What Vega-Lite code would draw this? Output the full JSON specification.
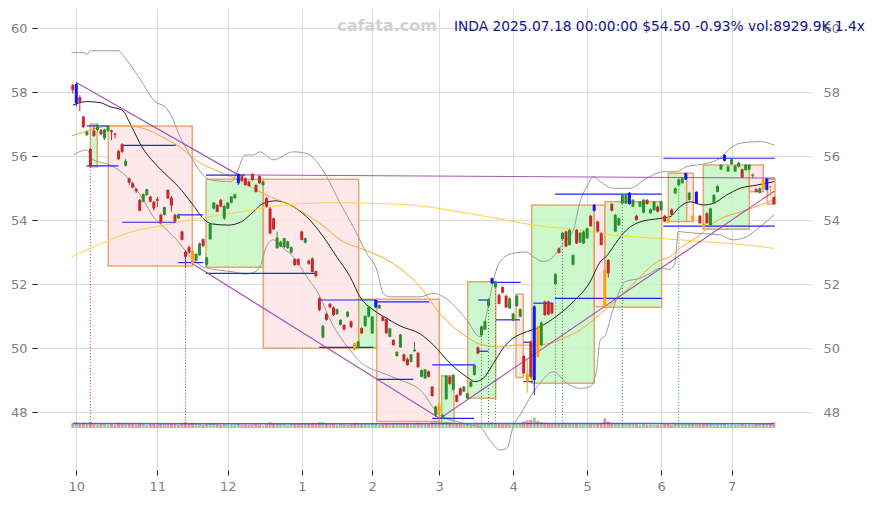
{
"$schema":"https://vega.github.io/schema/vega-lite/v6.json",
"width":775,"height":461,
"autosize":"none",
"padding":{"left":37,"top":9,"right":63,"bottom":35},
"background":"white",
"config":{"view":{"stroke":null},"scale":{"continuousPadding":0},"axis":{"domain":false,"gridColor":"#dcdcdc","gridWidth":1,"labelColor":"#808080","labelFont":"DejaVu Sans","labelFontSize":13,"tickColor":"#222222","tickSize":5}},
"datasets":{
"candles":[
{"i":-1,"o":58.22,"h":58.25,"l":57.95,"c":58.06,"v":7,"t":"r"},
{"i":0,"o":58.25,"h":58.3,"l":57.55,"c":57.65,"v":9,"t":"b"},
{"i":1,"o":57.84,"h":57.9,"l":57.4,"c":57.69,"v":7,"t":"r"},
{"i":2,"o":57.23,"h":57.25,"l":56.88,"c":56.9,"v":8,"t":"r"},
{"i":3,"o":56.66,"h":56.8,"l":56.62,"c":56.76,"v":6,"t":"g"},
{"i":4,"o":56.22,"h":56.25,"l":55.65,"c":55.67,"v":9,"t":"r"},
{"i":5,"o":56.79,"h":56.95,"l":56.6,"c":56.63,"v":6,"t":"r"},
{"i":6,"o":56.81,"h":57.0,"l":56.78,"c":56.97,"v":5,"t":"g"},
{"i":7,"o":56.81,"h":56.85,"l":56.65,"c":56.68,"v":6,"t":"r"},
{"i":8,"o":56.55,"h":56.85,"l":56.5,"c":56.83,"v":6,"t":"g"},
{"i":9,"o":56.79,"h":56.97,"l":56.75,"c":56.95,"v":5,"t":"g"},
{"i":10,"o":56.8,"h":56.82,"l":56.5,"c":56.75,"v":6,"t":"r"},
{"i":11,"o":56.7,"h":56.72,"l":56.55,"c":56.66,"v":5,"t":"r"},
{"i":12,"o":56.16,"h":56.2,"l":55.88,"c":55.9,"v":8,"t":"r"},
{"i":13,"o":56.37,"h":56.4,"l":56.1,"c":56.13,"v":7,"t":"r"},
{"i":14,"o":55.7,"h":55.9,"l":55.68,"c":55.85,"v":6,"t":"g"},
{"i":15,"o":55.3,"h":55.33,"l":55.1,"c":55.17,"v":7,"t":"r"},
{"i":16,"o":55.15,"h":55.18,"l":54.98,"c":55.02,"v":6,"t":"r"},
{"i":17,"o":54.97,"h":55.0,"l":54.85,"c":54.9,"v":5,"t":"r"},
{"i":18,"o":54.63,"h":54.66,"l":54.27,"c":54.29,"v":8,"t":"r"},
{"i":19,"o":54.57,"h":54.83,"l":54.55,"c":54.81,"v":6,"t":"g"},
{"i":20,"o":54.78,"h":54.98,"l":54.75,"c":54.96,"v":5,"t":"g"},
{"i":21,"o":54.73,"h":54.76,"l":54.55,"c":54.57,"v":6,"t":"r"},
{"i":22,"o":54.57,"h":54.6,"l":54.3,"c":54.36,"v":6,"t":"r"},
{"i":23,"o":54.65,"h":54.72,"l":54.4,"c":54.6,"v":5,"t":"r"},
{"i":24,"o":54.16,"h":54.2,"l":53.88,"c":53.9,"v":7,"t":"r"},
{"i":25,"o":54.16,"h":54.42,"l":54.14,"c":54.4,"v":6,"t":"g"},
{"i":26,"o":54.94,"h":54.96,"l":54.66,"c":54.68,"v":6,"t":"r"},
{"i":27,"o":54.7,"h":54.75,"l":54.26,"c":54.45,"v":7,"t":"r"},
{"i":28,"o":54.16,"h":54.2,"l":53.93,"c":53.95,"v":6,"t":"r"},
{"i":29,"o":54.05,"h":54.2,"l":54.03,"c":54.18,"v":5,"t":"g"},
{"i":30,"o":53.64,"h":53.67,"l":53.36,"c":53.38,"v":8,"t":"r"},
{"i":31,"o":53.01,"h":53.05,"l":52.54,"c":52.85,"v":9,"t":"r"},
{"i":32,"o":53.15,"h":53.2,"l":52.95,"c":52.98,"v":7,"t":"r"},
{"i":33,"o":53.04,"h":53.06,"l":52.62,"c":52.65,"v":8,"t":"o"},
{"i":34,"o":52.73,"h":52.96,"l":52.7,"c":52.94,"v":6,"t":"g"},
{"i":35,"o":52.9,"h":53.3,"l":52.88,"c":53.27,"v":6,"t":"g"},
{"i":36,"o":53.4,"h":53.43,"l":53.15,"c":53.19,"v":5,"t":"r"},
{"i":37,"o":52.6,"h":52.85,"l":52.54,"c":52.83,"v":6,"t":"g"},
{"i":38,"o":53.4,"h":53.9,"l":53.38,"c":53.88,"v":7,"t":"g"},
{"i":39,"o":54.36,"h":54.56,"l":54.33,"c":54.54,"v":8,"t":"g"},
{"i":40,"o":54.47,"h":54.5,"l":54.24,"c":54.26,"v":6,"t":"r"},
{"i":41,"o":54.63,"h":54.66,"l":54.4,"c":54.42,"v":5,"t":"r"},
{"i":42,"o":54.05,"h":54.46,"l":54.0,"c":54.44,"v":6,"t":"g"},
{"i":43,"o":54.36,"h":54.56,"l":54.34,"c":54.54,"v":5,"t":"g"},
{"i":44,"o":54.54,"h":54.75,"l":54.52,"c":54.73,"v":5,"t":"g"},
{"i":45,"o":54.68,"h":54.82,"l":54.66,"c":54.8,"v":5,"t":"g"},
{"i":46,"o":55.15,"h":55.46,"l":55.1,"c":55.44,"v":7,"t":"b"},
{"i":47,"o":55.37,"h":55.4,"l":55.2,"c":55.23,"v":5,"t":"r"},
{"i":48,"o":55.3,"h":55.33,"l":55.07,"c":55.09,"v":5,"t":"r"},
{"i":49,"o":55.2,"h":55.23,"l":55.04,"c":55.06,"v":5,"t":"r"},
{"i":50,"o":55.44,"h":55.46,"l":55.22,"c":55.25,"v":5,"t":"r"},
{"i":51,"o":55.09,"h":55.12,"l":54.86,"c":54.88,"v":6,"t":"r"},
{"i":52,"o":55.37,"h":55.4,"l":55.13,"c":55.15,"v":5,"t":"r"},
{"i":53,"o":55.09,"h":55.22,"l":55.07,"c":55.2,"v":4,"t":"g"},
{"i":54,"o":54.68,"h":54.72,"l":54.4,"c":54.42,"v":6,"t":"r"},
{"i":55,"o":54.36,"h":54.4,"l":53.55,"c":53.58,"v":9,"t":"r"},
{"i":56,"o":54.05,"h":54.08,"l":53.68,"c":53.71,"v":7,"t":"r"},
{"i":57,"o":53.12,"h":53.64,"l":53.1,"c":53.45,"v":7,"t":"g"},
{"i":58,"o":53.17,"h":53.35,"l":53.15,"c":53.32,"v":6,"t":"g"},
{"i":59,"o":53.15,"h":53.45,"l":53.12,"c":53.43,"v":6,"t":"g"},
{"i":60,"o":53.12,"h":53.35,"l":53.1,"c":53.33,"v":5,"t":"g"},
{"i":61,"o":52.98,"h":53.17,"l":52.95,"c":53.15,"v":6,"t":"g"},
{"i":62,"o":52.78,"h":52.8,"l":52.57,"c":52.59,"v":7,"t":"r"},
{"i":63,"o":52.78,"h":52.8,"l":52.58,"c":52.6,"v":6,"t":"r"},
{"i":64,"o":53.64,"h":53.67,"l":53.36,"c":53.38,"v":7,"t":"r"},
{"i":65,"o":53.29,"h":53.45,"l":53.27,"c":53.43,"v":6,"t":"g"},
{"i":66,"o":52.73,"h":52.76,"l":52.6,"c":52.63,"v":7,"t":"r"},
{"i":67,"o":52.8,"h":52.83,"l":52.36,"c":52.38,"v":8,"t":"r"},
{"i":68,"o":52.4,"h":52.42,"l":52.2,"c":52.25,"v":7,"t":"r"},
{"i":69,"o":51.55,"h":51.6,"l":51.15,"c":51.19,"v":9,"t":"r"},
{"i":70,"o":50.33,"h":50.72,"l":50.3,"c":50.69,"v":9,"t":"g"},
{"i":71,"o":51.06,"h":51.1,"l":50.85,"c":50.88,"v":7,"t":"r"},
{"i":72,"o":51.38,"h":51.4,"l":51.24,"c":51.27,"v":6,"t":"r"},
{"i":73,"o":51.27,"h":51.3,"l":51.0,"c":51.03,"v":6,"t":"r"},
{"i":74,"o":51.06,"h":51.23,"l":51.04,"c":51.21,"v":5,"t":"g"},
{"i":75,"o":50.72,"h":50.9,"l":50.7,"c":50.88,"v":6,"t":"g"},
{"i":76,"o":50.72,"h":50.75,"l":50.55,"c":50.58,"v":6,"t":"r"},
{"i":77,"o":50.98,"h":51.15,"l":50.96,"c":51.13,"v":5,"t":"g"},
{"i":78,"o":50.83,"h":50.86,"l":50.62,"c":50.65,"v":6,"t":"r"},
{"i":79,"o":50.15,"h":50.18,"l":49.92,"c":49.94,"v":8,"t":"o"},
{"i":80,"o":50.0,"h":50.22,"l":49.98,"c":50.2,"v":7,"t":"g"},
{"i":81,"o":50.62,"h":50.65,"l":50.44,"c":50.46,"v":6,"t":"r"},
{"i":82,"o":50.69,"h":51.02,"l":50.66,"c":51.0,"v":6,"t":"g"},
{"i":83,"o":50.98,"h":51.31,"l":50.96,"c":51.29,"v":6,"t":"g"},
{"i":84,"o":50.46,"h":51.0,"l":50.44,"c":50.98,"v":7,"t":"g"},
{"i":85,"o":51.27,"h":51.52,"l":51.25,"c":51.5,"v":7,"t":"b"},
{"i":86,"o":51.24,"h":51.36,"l":51.22,"c":51.34,"v":5,"t":"g"},
{"i":87,"o":50.98,"h":51.0,"l":50.83,"c":50.85,"v":6,"t":"r"},
{"i":88,"o":50.9,"h":50.93,"l":50.44,"c":50.46,"v":7,"t":"r"},
{"i":89,"o":50.35,"h":50.63,"l":50.33,"c":50.61,"v":6,"t":"g"},
{"i":90,"o":50.25,"h":50.28,"l":50.07,"c":50.09,"v":6,"t":"r"},
{"i":91,"o":49.75,"h":49.9,"l":49.73,"c":49.88,"v":7,"t":"g"},
{"i":92,"o":50.02,"h":50.44,"l":50.0,"c":50.42,"v":6,"t":"g"},
{"i":93,"o":49.8,"h":49.83,"l":49.57,"c":49.6,"v":7,"t":"r"},
{"i":94,"o":49.65,"h":49.7,"l":49.45,"c":49.47,"v":7,"t":"r"},
{"i":95,"o":49.57,"h":49.82,"l":49.55,"c":49.8,"v":6,"t":"g"},
{"i":96,"o":49.9,"h":50.2,"l":49.88,"c":49.95,"v":6,"t":"g"},
{"i":97,"o":49.85,"h":49.88,"l":49.38,"c":49.4,"v":8,"t":"r"},
{"i":98,"o":49.1,"h":49.33,"l":49.08,"c":49.31,"v":7,"t":"g"},
{"i":99,"o":49.05,"h":49.35,"l":49.03,"c":49.33,"v":6,"t":"g"},
{"i":100,"o":49.27,"h":49.3,"l":49.08,"c":49.1,"v":7,"t":"r"},
{"i":101,"o":48.79,"h":48.82,"l":48.48,"c":48.5,"v":9,"t":"r"},
{"i":102,"o":47.9,"h":48.2,"l":47.85,"c":48.17,"v":10,"t":"g"},
{"i":103,"o":48.2,"h":48.32,"l":47.8,"c":47.95,"v":11,"t":"o"},
{"i":104,"o":47.8,"h":47.95,"l":47.78,"c":47.9,"v":8,"t":"g"},
{"i":105,"o":48.4,"h":49.15,"l":48.38,"c":49.13,"v":9,"t":"g"},
{"i":106,"o":49.1,"h":49.13,"l":48.85,"c":48.88,"v":7,"t":"r"},
{"i":107,"o":48.7,"h":49.2,"l":48.67,"c":49.15,"v":7,"t":"g"},
{"i":108,"o":48.53,"h":48.56,"l":48.3,"c":48.32,"v":7,"t":"r"},
{"i":109,"o":48.74,"h":48.77,"l":48.5,"c":48.53,"v":6,"t":"r"},
{"i":110,"o":48.64,"h":48.82,"l":48.62,"c":48.79,"v":6,"t":"g"},
{"i":111,"o":48.43,"h":48.6,"l":48.4,"c":48.58,"v":6,"t":"g"},
{"i":112,"o":48.79,"h":48.98,"l":48.77,"c":48.95,"v":6,"t":"g"},
{"i":113,"o":49.16,"h":49.5,"l":49.14,"c":49.47,"v":7,"t":"g"},
{"i":114,"o":50.02,"h":50.05,"l":49.8,"c":49.83,"v":7,"t":"r"},
{"i":115,"o":50.4,"h":50.7,"l":50.38,"c":50.67,"v":8,"t":"g"},
{"i":116,"o":50.58,"h":50.86,"l":50.56,"c":50.83,"v":7,"t":"g"},
{"i":117,"o":51.31,"h":51.55,"l":51.28,"c":51.52,"v":8,"t":"g"},
{"i":118,"o":52.02,"h":52.2,"l":52.0,"c":52.18,"v":9,"t":"b"},
{"i":119,"o":51.9,"h":52.1,"l":51.88,"c":52.07,"v":7,"t":"g"},
{"i":120,"o":51.66,"h":51.7,"l":51.36,"c":51.38,"v":7,"t":"r"},
{"i":121,"o":51.9,"h":51.93,"l":51.7,"c":51.73,"v":6,"t":"r"},
{"i":122,"o":51.63,"h":51.66,"l":51.25,"c":51.27,"v":7,"t":"r"},
{"i":123,"o":51.24,"h":51.58,"l":51.22,"c":51.55,"v":6,"t":"g"},
{"i":124,"o":50.85,"h":51.1,"l":50.83,"c":51.08,"v":7,"t":"g"},
{"i":125,"o":51.31,"h":51.66,"l":51.29,"c":51.63,"v":6,"t":"g"},
{"i":126,"o":50.98,"h":51.24,"l":50.96,"c":51.21,"v":7,"t":"g"},
{"i":127,"o":49.75,"h":49.78,"l":49.18,"c":49.21,"v":10,"t":"r"},
{"i":128,"o":49.19,"h":49.65,"l":48.6,"c":48.95,"v":12,"t":"o"},
{"i":129,"o":50.2,"h":50.23,"l":49.05,"c":49.1,"v":13,"t":"r"},
{"i":130,"o":49.0,"h":51.34,"l":48.53,"c":51.3,"v":16,"t":"b"},
{"i":131,"o":50.67,"h":50.7,"l":49.7,"c":49.73,"v":11,"t":"o"},
{"i":132,"o":50.09,"h":50.83,"l":50.05,"c":50.79,"v":9,"t":"g"},
{"i":133,"o":51.45,"h":51.48,"l":51.0,"c":51.03,"v":8,"t":"r"},
{"i":134,"o":51.45,"h":51.48,"l":51.02,"c":51.05,"v":7,"t":"r"},
{"i":135,"o":51.38,"h":51.42,"l":51.05,"c":51.08,"v":7,"t":"r"},
{"i":136,"o":52.0,"h":52.34,"l":51.98,"c":52.31,"v":8,"t":"g"},
{"i":137,"o":53.11,"h":53.14,"l":52.95,"c":52.98,"v":7,"t":"r"},
{"i":138,"o":53.4,"h":53.63,"l":53.38,"c":53.6,"v":8,"t":"g"},
{"i":139,"o":53.64,"h":53.67,"l":53.15,"c":53.17,"v":7,"t":"r"},
{"i":140,"o":53.22,"h":53.72,"l":53.2,"c":53.69,"v":7,"t":"g"},
{"i":141,"o":52.6,"h":52.93,"l":52.58,"c":52.9,"v":7,"t":"g"},
{"i":142,"o":53.69,"h":53.72,"l":53.25,"c":53.27,"v":7,"t":"r"},
{"i":143,"o":53.3,"h":53.63,"l":53.28,"c":53.6,"v":6,"t":"g"},
{"i":144,"o":53.27,"h":53.67,"l":53.25,"c":53.64,"v":6,"t":"g"},
{"i":145,"o":53.43,"h":53.77,"l":53.4,"c":53.74,"v":6,"t":"g"},
{"i":146,"o":54.13,"h":54.16,"l":53.78,"c":53.81,"v":7,"t":"r"},
{"i":147,"o":54.29,"h":54.5,"l":54.27,"c":54.47,"v":7,"t":"b"},
{"i":148,"o":53.95,"h":53.98,"l":53.62,"c":53.64,"v":7,"t":"r"},
{"i":149,"o":53.58,"h":53.62,"l":53.2,"c":53.22,"v":8,"t":"r"},
{"i":150,"o":52.44,"h":52.47,"l":51.27,"c":51.29,"v":15,"t":"o"},
{"i":151,"o":52.75,"h":52.78,"l":52.2,"c":52.33,"v":10,"t":"r"},
{"i":152,"o":54.5,"h":54.53,"l":54.27,"c":54.29,"v":8,"t":"r"},
{"i":153,"o":53.64,"h":54.19,"l":53.62,"c":54.16,"v":7,"t":"g"},
{"i":154,"o":53.84,"h":54.08,"l":53.82,"c":54.05,"v":6,"t":"g"},
{"i":155,"o":54.52,"h":54.81,"l":54.5,"c":54.78,"v":7,"t":"g"},
{"i":156,"o":54.52,"h":54.81,"l":54.5,"c":54.78,"v":6,"t":"g"},
{"i":157,"o":54.5,"h":54.88,"l":54.48,"c":54.85,"v":7,"t":"b"},
{"i":158,"o":54.42,"h":54.66,"l":54.4,"c":54.63,"v":6,"t":"g"},
{"i":159,"o":54.13,"h":54.16,"l":53.98,"c":54.0,"v":6,"t":"r"},
{"i":160,"o":54.42,"h":54.6,"l":54.4,"c":54.57,"v":5,"t":"g"},
{"i":161,"o":54.23,"h":54.66,"l":54.21,"c":54.63,"v":6,"t":"g"},
{"i":162,"o":54.63,"h":54.66,"l":54.48,"c":54.5,"v":5,"t":"r"},
{"i":163,"o":54.21,"h":54.36,"l":54.19,"c":54.33,"v":5,"t":"g"},
{"i":164,"o":54.31,"h":54.6,"l":54.29,"c":54.57,"v":5,"t":"g"},
{"i":165,"o":54.42,"h":54.45,"l":54.24,"c":54.26,"v":5,"t":"r"},
{"i":166,"o":54.31,"h":54.6,"l":54.29,"c":54.57,"v":5,"t":"g"},
{"i":167,"o":54.13,"h":54.16,"l":53.93,"c":53.95,"v":6,"t":"r"},
{"i":168,"o":54.08,"h":54.11,"l":53.9,"c":53.92,"v":6,"t":"o"},
{"i":169,"o":54.33,"h":54.36,"l":54.14,"c":54.16,"v":5,"t":"r"},
{"i":170,"o":54.83,"h":55.02,"l":54.81,"c":54.99,"v":7,"t":"g"},
{"i":171,"o":55.09,"h":55.3,"l":55.07,"c":55.27,"v":7,"t":"g"},
{"i":172,"o":55.15,"h":55.33,"l":55.13,"c":55.3,"v":6,"t":"g"},
{"i":173,"o":55.27,"h":55.48,"l":55.25,"c":55.46,"v":6,"t":"b"},
{"i":174,"o":54.63,"h":54.88,"l":54.61,"c":54.85,"v":6,"t":"g"},
{"i":175,"o":54.13,"h":54.16,"l":53.96,"c":53.98,"v":7,"t":"o"},
{"i":176,"o":54.52,"h":54.9,"l":54.5,"c":54.88,"v":6,"t":"b"},
{"i":177,"o":54.13,"h":54.16,"l":53.88,"c":53.9,"v":6,"t":"r"},
{"i":178,"o":53.9,"h":53.93,"l":53.75,"c":53.77,"v":6,"t":"o"},
{"i":179,"o":54.21,"h":54.24,"l":53.88,"c":53.9,"v":6,"t":"r"},
{"i":180,"o":53.84,"h":54.39,"l":53.82,"c":54.36,"v":7,"t":"g"},
{"i":181,"o":54.52,"h":54.81,"l":54.5,"c":54.78,"v":6,"t":"g"},
{"i":182,"o":54.88,"h":55.09,"l":54.86,"c":55.06,"v":6,"t":"g"},
{"i":183,"o":55.58,"h":55.75,"l":55.56,"c":55.72,"v":7,"t":"g"},
{"i":184,"o":55.85,"h":56.06,"l":55.83,"c":56.03,"v":7,"t":"b"},
{"i":185,"o":55.52,"h":55.7,"l":55.5,"c":55.67,"v":5,"t":"g"},
{"i":186,"o":55.75,"h":55.93,"l":55.73,"c":55.9,"v":5,"t":"g"},
{"i":187,"o":55.52,"h":55.72,"l":55.5,"c":55.69,"v":5,"t":"g"},
{"i":188,"o":55.67,"h":55.82,"l":55.65,"c":55.79,"v":5,"t":"g"},
{"i":189,"o":55.58,"h":55.61,"l":55.31,"c":55.33,"v":6,"t":"r"},
{"i":190,"o":55.56,"h":55.75,"l":55.54,"c":55.72,"v":5,"t":"g"},
{"i":191,"o":55.58,"h":55.75,"l":55.56,"c":55.72,"v":5,"t":"g"},
{"i":192,"o":55.38,"h":55.45,"l":55.3,"c":55.42,"v":5,"t":"g"},
{"i":193,"o":54.96,"h":54.99,"l":54.86,"c":54.88,"v":6,"t":"r"},
{"i":194,"o":54.85,"h":55.02,"l":54.83,"c":54.99,"v":6,"t":"g"},
{"i":195,"o":55.27,"h":55.3,"l":54.94,"c":54.96,"v":7,"t":"o"},
{"i":196,"o":54.94,"h":55.32,"l":54.92,"c":55.3,"v":7,"t":"b"},
{"i":197,"o":55.05,"h":55.08,"l":54.76,"c":55.01,"v":7,"t":"o"},
{"i":198,"o":54.71,"h":54.74,"l":54.48,"c":54.5,"v":8.9,"t":"r"}
],
"boxes":[
{"x1":3.97,"x2":5.96,"p1":57.0,"p2":55.66,"k":"G"},
{"x1":9.08,"x2":32.93,"p1":56.94,"p2":52.56,"k":"P"},
{"x1":36.82,"x2":53.08,"p1":55.27,"p2":52.52,"k":"G"},
{"x1":53.08,"x2":80.16,"p1":55.27,"p2":49.99,"k":"P"},
{"x1":80.16,"x2":85.27,"p1":51.52,"p2":50.01,"k":"G"},
{"x1":85.27,"x2":103.04,"p1":51.52,"p2":47.7,"k":"P"},
{"x1":103.72,"x2":107.21,"p1":49.13,"p2":47.65,"k":"G"},
{"x1":111.1,"x2":119.05,"p1":52.07,"p2":48.43,"k":"G"},
{"x1":124.81,"x2":126.88,"p1":51.68,"p2":49.08,"k":"P"},
{"x1":129.26,"x2":147.03,"p1":54.47,"p2":48.9,"k":"G"},
{"x1":147.03,"x2":150.07,"p1":54.47,"p2":51.29,"k":"P"},
{"x1":150.07,"x2":166.17,"p1":54.57,"p2":51.27,"k":"G"},
{"x1":168.04,"x2":173.26,"p1":55.46,"p2":53.95,"k":"G"},
{"x1":173.26,"x2":175.13,"p1":55.46,"p2":53.95,"k":"P"},
{"x1":177.97,"x2":191.03,"p1":55.72,"p2":53.71,"k":"G"},
{"x1":191.03,"x2":195.0,"p1":55.72,"p2":54.88,"k":"P"},
{"x1":196.14,"x2":198.33,"p1":55.27,"p2":54.5,"k":"P"}
],
"blue":[
{"x1":2.95,"x2":9.08,"p":56.94},{"x1":2.95,"x2":11.92,"p":55.69},
{"x1":13.06,"x2":28.21,"p":56.33},{"x1":13.06,"x2":28.21,"p":53.93},
{"x1":28.95,"x2":36.05,"p":54.16},{"x1":28.95,"x2":36.05,"p":52.67},
{"x1":36.82,"x2":47.89,"p":55.4},{"x1":36.82,"x2":68.24,"p":52.33},
{"x1":68.98,"x2":84.8,"p":51.5},{"x1":68.98,"x2":84.3,"p":50.02},
{"x1":85.27,"x2":100.2,"p":51.44},{"x1":85.27,"x2":95.66,"p":49.02},
{"x1":101.05,"x2":112.89,"p":49.47},{"x1":101.05,"x2":112.89,"p":47.8},
{"x1":114.11,"x2":116.95,"p":51.5},{"x1":114.11,"x2":116.95,"p":49.9},
{"x1":118.2,"x2":126.14,"p":52.05},{"x1":119.13,"x2":125.94,"p":50.88},
{"x1":126.88,"x2":128.98,"p":50.18},{"x1":126.88,"x2":129.55,"p":48.95},
{"x1":129.72,"x2":135.4,"p":51.4},
{"x1":135.88,"x2":166.17,"p":51.55},{"x1":135.88,"x2":166.17,"p":54.81},
{"x1":166.62,"x2":198.33,"p":55.93},{"x1":166.62,"x2":198.33,"p":53.81}
],
"purple":[
{"x1":0,"p1":58.3,"x2":46.0,"p2":55.41},
{"x1":46.0,"p1":55.41,"x2":198.3,"p2":55.31},
{"x1":33.0,"p1":52.63,"x2":103.2,"p2":47.8},
{"x1":103.2,"p1":47.8,"x2":198.1,"p2":54.9}
],
"dots":[
{"i":4,"top":55.65,"bot":47.55,"k":"r"},
{"i":31,"top":52.54,"bot":47.55,"k":"r"},
{"i":115,"top":50.38,"bot":47.55,"k":"g"},
{"i":117,"top":51.28,"bot":47.55,"k":"g"},
{"i":119,"top":51.88,"bot":47.55,"k":"g"},
{"i":136,"top":51.98,"bot":47.55,"k":"g"},
{"i":138,"top":53.38,"bot":47.55,"k":"g"},
{"i":155,"top":54.5,"bot":47.55,"k":"g"},
{"i":171,"top":55.07,"bot":47.55,"k":"g"}
],
"lines":[
{"s":"ma20","i":-1.0,"p":57.59},{"s":"ma20","i":2.95,"p":57.7},{"s":"ma20","i":6.7,"p":57.67},{"s":"ma20","i":9.6,"p":57.54},{"s":"ma20","i":12.9,"p":57.44},{"s":"ma20","i":15.7,"p":56.92},{"s":"ma20","i":18.6,"p":56.29},{"s":"ma20","i":22.3,"p":55.77},{"s":"ma20","i":26.1,"p":55.35},{"s":"ma20","i":29.0,"p":55.04},{"s":"ma20","i":32.8,"p":54.52},{"s":"ma20","i":36.5,"p":54.0},{"s":"ma20","i":38.4,"p":53.88},{"s":"ma20","i":43.1,"p":53.84},{"s":"ma20","i":46.9,"p":53.95},{"s":"ma20","i":50.2,"p":54.25},{"s":"ma20","i":53.1,"p":54.52},{"s":"ma20","i":56.9,"p":54.6},{"s":"ma20","i":60.7,"p":54.47},{"s":"ma20","i":65.4,"p":54.1},{"s":"ma20","i":70.1,"p":53.48},{"s":"ma20","i":73.9,"p":52.85},{"s":"ma20","i":77.7,"p":52.23},{"s":"ma20","i":80.5,"p":51.6},{"s":"ma20","i":84.3,"p":51.19},{"s":"ma20","i":88.1,"p":50.93},{"s":"ma20","i":91.9,"p":50.69},{"s":"ma20","i":97.6,"p":50.44},{"s":"ma20","i":101.4,"p":50.09},{"s":"ma20","i":106.1,"p":49.52},{"s":"ma20","i":110.8,"p":49.1},{"s":"ma20","i":113.2,"p":48.95},{"s":"ma20","i":115.5,"p":49.05},{"s":"ma20","i":118.4,"p":49.52},{"s":"ma20","i":121.2,"p":50.0},{"s":"ma20","i":124.0,"p":50.31},{"s":"ma20","i":126.9,"p":50.47},{"s":"ma20","i":131.6,"p":50.66},{"s":"ma20","i":136.4,"p":51.0},{"s":"ma20","i":141.1,"p":51.45},{"s":"ma20","i":145.8,"p":52.06},{"s":"ma20","i":148.7,"p":52.69},{"s":"ma20","i":150.6,"p":52.88},{"s":"ma20","i":152.4,"p":53.16},{"s":"ma20","i":155.3,"p":53.59},{"s":"ma20","i":160.0,"p":53.94},{"s":"ma20","i":165.7,"p":54.05},{"s":"ma20","i":168.5,"p":54.1},{"s":"ma20","i":171.4,"p":54.42},{"s":"ma20","i":174.2,"p":54.57},{"s":"ma20","i":178.0,"p":54.47},{"s":"ma20","i":180.8,"p":54.52},{"s":"ma20","i":184.6,"p":54.78},{"s":"ma20","i":188.4,"p":54.99},{"s":"ma20","i":193.1,"p":55.09},{"s":"ma20","i":198.1,"p":55.2},
{"s":"ma50","i":-1.3,"p":56.63},{"s":"ma50","i":2.5,"p":56.76},{"s":"ma50","i":6.2,"p":56.88},{"s":"ma50","i":11.0,"p":56.94},{"s":"ma50","i":14.8,"p":56.94},{"s":"ma50","i":20.4,"p":56.81},{"s":"ma50","i":25.2,"p":56.55},{"s":"ma50","i":29.9,"p":56.24},{"s":"ma50","i":34.6,"p":55.82},{"s":"ma50","i":39.4,"p":55.56},{"s":"ma50","i":44.1,"p":55.35},{"s":"ma50","i":47.9,"p":55.15},{"s":"ma50","i":52.1,"p":54.88},{"s":"ma50","i":61.6,"p":54.42},{"s":"ma50","i":67.0,"p":54.06},{"s":"ma50","i":71.2,"p":53.72},{"s":"ma50","i":74.9,"p":53.38},{"s":"ma50","i":80.5,"p":53.12},{"s":"ma50","i":84.3,"p":52.96},{"s":"ma50","i":91.9,"p":52.49},{"s":"ma50","i":97.6,"p":51.91},{"s":"ma50","i":103.2,"p":51.08},{"s":"ma50","i":110.8,"p":50.35},{"s":"ma50","i":115.5,"p":50.09},{"s":"ma50","i":120.3,"p":50.04},{"s":"ma50","i":125.0,"p":50.09},{"s":"ma50","i":129.7,"p":50.09},{"s":"ma50","i":134.5,"p":50.15},{"s":"ma50","i":139.2,"p":50.35},{"s":"ma50","i":143.0,"p":50.56},{"s":"ma50","i":146.8,"p":50.88},{"s":"ma50","i":150.6,"p":51.24},{"s":"ma50","i":154.3,"p":51.6},{"s":"ma50","i":160.0,"p":52.22},{"s":"ma50","i":164.8,"p":52.7},{"s":"ma50","i":168.5,"p":52.85},{"s":"ma50","i":171.4,"p":53.12},{"s":"ma50","i":177.0,"p":53.53},{"s":"ma50","i":180.8,"p":53.9},{"s":"ma50","i":190.3,"p":54.31},{"s":"ma50","i":198.1,"p":54.63},
{"s":"ma200","i":-1.3,"p":52.85},{"s":"ma200","i":6.2,"p":53.22},{"s":"ma200","i":15.7,"p":53.63},{"s":"ma200","i":25.2,"p":53.84},{"s":"ma200","i":34.6,"p":54.05},{"s":"ma200","i":44.1,"p":54.21},{"s":"ma200","i":55.9,"p":54.42},{"s":"ma200","i":65.4,"p":54.52},{"s":"ma200","i":74.9,"p":54.54},{"s":"ma200","i":84.3,"p":54.52},{"s":"ma200","i":97.6,"p":54.44},{"s":"ma200","i":108.9,"p":54.25},{"s":"ma200","i":120.3,"p":54.03},{"s":"ma200","i":131.6,"p":53.81},{"s":"ma200","i":143.0,"p":53.69},{"s":"ma200","i":152.4,"p":53.53},{"s":"ma200","i":161.9,"p":53.45},{"s":"ma200","i":171.4,"p":53.38},{"s":"ma200","i":180.8,"p":53.3},{"s":"ma200","i":190.3,"p":53.22},{"s":"ma200","i":198.1,"p":53.11},
{"s":"bbu","i":-1.3,"p":59.23},{"s":"bbu","i":2.5,"p":59.23},{"s":"bbu","i":2.95,"p":59.16},{"s":"bbu","i":3.9,"p":59.29},{"s":"bbu","i":11.9,"p":59.29},{"s":"bbu","i":14.3,"p":59.0},{"s":"bbu","i":18.6,"p":58.32},{"s":"bbu","i":22.3,"p":57.7},{"s":"bbu","i":25.2,"p":57.54},{"s":"bbu","i":27.1,"p":57.23},{"s":"bbu","i":29.0,"p":56.71},{"s":"bbu","i":32.8,"p":55.93},{"s":"bbu","i":36.5,"p":55.35},{"s":"bbu","i":38.4,"p":55.25},{"s":"bbu","i":44.1,"p":55.2},{"s":"bbu","i":45.5,"p":55.46},{"s":"bbu","i":47.9,"p":56.03},{"s":"bbu","i":50.2,"p":56.03},{"s":"bbu","i":52.1,"p":56.13},{"s":"bbu","i":55.9,"p":55.88},{"s":"bbu","i":61.6,"p":56.13},{"s":"bbu","i":65.4,"p":56.08},{"s":"bbu","i":71.1,"p":55.35},{"s":"bbu","i":74.9,"p":54.52},{"s":"bbu","i":78.6,"p":53.79},{"s":"bbu","i":82.4,"p":52.96},{"s":"bbu","i":85.3,"p":52.44},{"s":"bbu","i":87.1,"p":51.71},{"s":"bbu","i":89.0,"p":51.6},{"s":"bbu","i":97.6,"p":51.6},{"s":"bbu","i":101.4,"p":51.71},{"s":"bbu","i":104.2,"p":51.6},{"s":"bbu","i":110.8,"p":50.88},{"s":"bbu","i":114.6,"p":50.35},{"s":"bbu","i":116.5,"p":51.08},{"s":"bbu","i":118.4,"p":52.12},{"s":"bbu","i":120.3,"p":52.7},{"s":"bbu","i":124.0,"p":52.96},{"s":"bbu","i":127.8,"p":53.0},{"s":"bbu","i":129.7,"p":52.85},{"s":"bbu","i":132.6,"p":52.7},{"s":"bbu","i":135.4,"p":52.85},{"s":"bbu","i":138.2,"p":53.27},{"s":"bbu","i":141.1,"p":53.69},{"s":"bbu","i":143.0,"p":54.57},{"s":"bbu","i":144.9,"p":55.04},{"s":"bbu","i":146.8,"p":55.35},{"s":"bbu","i":148.7,"p":55.2},{"s":"bbu","i":152.4,"p":54.99},{"s":"bbu","i":157.2,"p":54.99},{"s":"bbu","i":161.9,"p":55.3},{"s":"bbu","i":166.6,"p":55.51},{"s":"bbu","i":170.4,"p":55.51},{"s":"bbu","i":173.3,"p":55.67},{"s":"bbu","i":179.0,"p":55.77},{"s":"bbu","i":182.7,"p":55.93},{"s":"bbu","i":185.6,"p":56.24},{"s":"bbu","i":188.4,"p":56.4},{"s":"bbu","i":194.1,"p":56.45},{"s":"bbu","i":198.1,"p":56.34},
{"s":"bbl","i":-0.9,"p":56.03},{"s":"bbl","i":2.95,"p":56.19},{"s":"bbl","i":4.8,"p":55.88},{"s":"bbl","i":9.6,"p":55.72},{"s":"bbl","i":14.3,"p":55.35},{"s":"bbl","i":19.0,"p":54.63},{"s":"bbl","i":21.9,"p":54.1},{"s":"bbl","i":24.7,"p":53.79},{"s":"bbl","i":28.5,"p":53.38},{"s":"bbl","i":33.2,"p":52.75},{"s":"bbl","i":36.0,"p":52.54},{"s":"bbl","i":39.9,"p":52.44},{"s":"bbl","i":44.6,"p":52.38},{"s":"bbl","i":47.9,"p":52.31},{"s":"bbl","i":50.7,"p":52.38},{"s":"bbl","i":52.1,"p":52.54},{"s":"bbl","i":54.0,"p":53.17},{"s":"bbl","i":55.9,"p":53.38},{"s":"bbl","i":58.8,"p":53.11},{"s":"bbl","i":61.6,"p":52.85},{"s":"bbl","i":65.4,"p":52.23},{"s":"bbl","i":69.2,"p":51.6},{"s":"bbl","i":72.0,"p":50.88},{"s":"bbl","i":74.9,"p":50.35},{"s":"bbl","i":77.7,"p":49.94},{"s":"bbl","i":80.5,"p":49.57},{"s":"bbl","i":82.4,"p":49.42},{"s":"bbl","i":86.2,"p":49.25},{"s":"bbl","i":91.9,"p":49.0},{"s":"bbl","i":97.6,"p":48.69},{"s":"bbl","i":103.2,"p":47.9},{"s":"bbl","i":108.1,"p":47.7},{"s":"bbl","i":111.8,"p":47.59},{"s":"bbl","i":114.6,"p":47.53},{"s":"bbl","i":117.4,"p":47.12},{"s":"bbl","i":120.3,"p":46.81},{"s":"bbl","i":122.3,"p":46.88},{"s":"bbl","i":124.0,"p":47.54},{"s":"bbl","i":125.9,"p":47.9},{"s":"bbl","i":131.6,"p":48.9},{"s":"bbl","i":135.4,"p":49.26},{"s":"bbl","i":139.2,"p":48.9},{"s":"bbl","i":143.0,"p":48.74},{"s":"bbl","i":145.8,"p":48.79},{"s":"bbl","i":147.7,"p":49.31},{"s":"bbl","i":148.7,"p":50.25},{"s":"bbl","i":150.1,"p":50.38},{"s":"bbl","i":152.0,"p":51.08},{"s":"bbl","i":154.3,"p":51.81},{"s":"bbl","i":155.8,"p":52.07},{"s":"bbl","i":160.0,"p":52.18},{"s":"bbl","i":162.8,"p":52.33},{"s":"bbl","i":165.7,"p":52.49},{"s":"bbl","i":168.5,"p":52.46},{"s":"bbl","i":169.9,"p":52.65},{"s":"bbl","i":170.9,"p":53.64},{"s":"bbl","i":173.3,"p":53.61},{"s":"bbl","i":177.0,"p":53.58},{"s":"bbl","i":182.7,"p":53.53},{"s":"bbl","i":186.4,"p":53.38},{"s":"bbl","i":190.3,"p":53.48},{"s":"bbl","i":194.1,"p":53.79},{"s":"bbl","i":198.1,"p":54.16}
],
"vma":[{"i":-1,"v":6.9},{"i":40,"v":6.6},{"i":80,"v":6.5},{"i":120,"v":7.1},{"i":160,"v":6.8},{"i":198,"v":6.4}]
},
"layer":[
{"data":{"name":"boxes"},"mark":{"type":"rect","stroke":"#e49a5c","strokeWidth":1.5,"strokeOpacity":0.85},
 "encoding":{
  "x":{"field":"x1","type":"quantitative","scale":{"domain":[-11.155,208.83],"nice":false,"zero":false,"padding":0},
   "axis":{"orient":"bottom","values":[0,23,43,64,84,103,124,145,166,186],"labelExpr":"datum.value==0?'10':datum.value==23?'11':datum.value==43?'12':datum.value==64?'1':datum.value==84?'2':datum.value==103?'3':datum.value==124?'4':datum.value==145?'5':datum.value==166?'6':'7'","grid":true,"labelPadding":5,"title":null}},
  "x2":{"field":"x2"},
  "y":{"field":"p1","type":"quantitative","scale":{"domain":[46.1875,60.594],"nice":false,"zero":false},
   "axis":{"orient":"left","values":[48,50,52,54,56,58,60],"grid":true,"labelPadding":5,"format":"d","title":null}},
  "y2":{"field":"p2"},
  "fill":{"field":"k","type":"nominal","scale":{"domain":["G","P","r","g","b","o"],"range":["#c4f6c4","#fde5e5","#dd8080","#80c080","#80c080","#dd8080"]},"legend":null},
  "fillOpacity":{"value":0.85}
 }},
{"data":{"name":"dots"},"mark":{"type":"rule","strokeDash":[1,2],"strokeWidth":1},
 "encoding":{
  "x":{"field":"i","type":"quantitative","scale":{"domain":[-11.155,208.83],"nice":false,"zero":false,"padding":0},
   "axis":{"orient":"bottom","values":[0,23,43,64,84,103,124,145,166,186],"labelExpr":"datum.value==0?'10':datum.value==23?'11':datum.value==43?'12':datum.value==64?'1':datum.value==84?'2':datum.value==103?'3':datum.value==124?'4':datum.value==145?'5':datum.value==166?'6':'7'","grid":true,"labelPadding":5,"title":null}},
  "y":{"field":"top","type":"quantitative","scale":{"domain":[46.1875,60.594],"nice":false,"zero":false},"axis":null},
  "y2":{"field":"bot"},
  "color":{"field":"k","type":"nominal","scale":{"domain":["r","g","b","o","ma20","ma50","ma200","bbu","bbl"],"range":["#c42a2a","#2b8f2b","#1414ff","#ffa000","#222222","#ffa62b","#ffd23f","#9c9c9c","#9c9c9c"]},"legend":null}
 }},
{"data":{"name":"lines"},"mark":{"type":"line","strokeWidth":1,"interpolate":"monotone"},
 "encoding":{
  "x":{"field":"i","type":"quantitative","scale":{"domain":[-11.155,208.83],"nice":false,"zero":false,"padding":0},
   "axis":{"orient":"bottom","values":[0,23,43,64,84,103,124,145,166,186],"labelExpr":"datum.value==0?'10':datum.value==23?'11':datum.value==43?'12':datum.value==64?'1':datum.value==84?'2':datum.value==103?'3':datum.value==124?'4':datum.value==145?'5':datum.value==166?'6':'7'","grid":true,"labelPadding":5,"title":null}},
  "y":{"field":"p","type":"quantitative","scale":{"domain":[46.1875,60.594],"nice":false,"zero":false},
   "axis":{"orient":"right","values":[48,50,52,54,56,58,60],"grid":false,"ticks":false,"labelPadding":11,"format":"d","title":null}},
  "color":{"field":"s","type":"nominal","scale":{"domain":["r","g","b","o","ma20","ma50","ma200","bbu","bbl"],"range":["#c42a2a","#2b8f2b","#1414ff","#ffa000","#222222","#ffa62b","#ffd23f","#9c9c9c","#9c9c9c"]},"legend":null},
  "detail":{"field":"s"}
 }},
{"data":{"name":"blue"},"mark":{"type":"rule","color":"#2222ff","strokeWidth":1.2},
 "encoding":{
  "x":{"field":"x1","type":"quantitative","scale":{"domain":[-11.155,208.83],"nice":false,"zero":false,"padding":0},
   "axis":{"orient":"bottom","values":[0,23,43,64,84,103,124,145,166,186],"labelExpr":"datum.value==0?'10':datum.value==23?'11':datum.value==43?'12':datum.value==64?'1':datum.value==84?'2':datum.value==103?'3':datum.value==124?'4':datum.value==145?'5':datum.value==166?'6':'7'","grid":true,"labelPadding":5,"title":null}},
  "x2":{"field":"x2"},
  "y":{"field":"p","type":"quantitative","scale":{"domain":[46.1875,60.594],"nice":false,"zero":false},"axis":null}
 }},
{"data":{"name":"purple"},"mark":{"type":"rule","color":"#9a3aae","strokeWidth":1.2,"opacity":0.85},
 "encoding":{
  "x":{"field":"x1","type":"quantitative","scale":{"domain":[-11.155,208.83],"nice":false,"zero":false,"padding":0},
   "axis":{"orient":"bottom","values":[0,23,43,64,84,103,124,145,166,186],"labelExpr":"datum.value==0?'10':datum.value==23?'11':datum.value==43?'12':datum.value==64?'1':datum.value==84?'2':datum.value==103?'3':datum.value==124?'4':datum.value==145?'5':datum.value==166?'6':'7'","grid":true,"labelPadding":5,"title":null}},
  "x2":{"field":"x2"},
  "y":{"field":"p1","type":"quantitative","scale":{"domain":[46.1875,60.594],"nice":false,"zero":false},"axis":null},
  "y2":{"field":"p2"}
 }},
{"data":{"name":"candles"},"mark":{"type":"bar","size":3,"opacity":0.8},
 "encoding":{
  "x":{"field":"i","type":"quantitative","scale":{"domain":[-11.155,208.83],"nice":false,"zero":false,"padding":0},
   "axis":{"orient":"bottom","values":[0,23,43,64,84,103,124,145,166,186],"labelExpr":"datum.value==0?'10':datum.value==23?'11':datum.value==43?'12':datum.value==64?'1':datum.value==84?'2':datum.value==103?'3':datum.value==124?'4':datum.value==145?'5':datum.value==166?'6':'7'","grid":true,"labelPadding":5,"title":null}},
  "y":{"field":"v","type":"quantitative","scale":{"domain":[-64.6,644.6],"nice":false,"zero":false},"axis":null},
  "y2":{"datum":0},
  "fill":{"field":"t","type":"nominal","scale":{"domain":["G","P","r","g","b","o"],"range":["#c4f6c4","#fde5e5","#dd8080","#80c080","#80c080","#dd8080"]},"legend":null}
 }},
{"data":{"name":"vma"},"mark":{"type":"line","color":"#3a3aff","strokeWidth":1.5,"opacity":0.85},
 "encoding":{
  "x":{"field":"i","type":"quantitative","scale":{"domain":[-11.155,208.83],"nice":false,"zero":false,"padding":0},
   "axis":{"orient":"bottom","values":[0,23,43,64,84,103,124,145,166,186],"labelExpr":"datum.value==0?'10':datum.value==23?'11':datum.value==43?'12':datum.value==64?'1':datum.value==84?'2':datum.value==103?'3':datum.value==124?'4':datum.value==145?'5':datum.value==166?'6':'7'","grid":true,"labelPadding":5,"title":null}},
  "y":{"field":"v","type":"quantitative","scale":{"domain":[-64.6,644.6],"nice":false,"zero":false},"axis":null}
 }},
{"data":{"name":"candles"},"mark":{"type":"rule","strokeWidth":1},
 "encoding":{
  "x":{"field":"i","type":"quantitative","scale":{"domain":[-11.155,208.83],"nice":false,"zero":false,"padding":0},
   "axis":{"orient":"bottom","values":[0,23,43,64,84,103,124,145,166,186],"labelExpr":"datum.value==0?'10':datum.value==23?'11':datum.value==43?'12':datum.value==64?'1':datum.value==84?'2':datum.value==103?'3':datum.value==124?'4':datum.value==145?'5':datum.value==166?'6':'7'","grid":true,"labelPadding":5,"title":null}},
  "y":{"field":"h","type":"quantitative","scale":{"domain":[46.1875,60.594],"nice":false,"zero":false},"axis":null},
  "y2":{"field":"l"},
  "color":{"field":"t","type":"nominal","scale":{"domain":["r","g","b","o","ma20","ma50","ma200","bbu","bbl"],"range":["#c42a2a","#2b8f2b","#1414ff","#ffa000","#222222","#ffa62b","#ffd23f","#9c9c9c","#9c9c9c"]},"legend":null}
 }},
{"data":{"name":"candles"},"mark":{"type":"bar","size":3},
 "encoding":{
  "x":{"field":"i","type":"quantitative","scale":{"domain":[-11.155,208.83],"nice":false,"zero":false,"padding":0},
   "axis":{"orient":"bottom","values":[0,23,43,64,84,103,124,145,166,186],"labelExpr":"datum.value==0?'10':datum.value==23?'11':datum.value==43?'12':datum.value==64?'1':datum.value==84?'2':datum.value==103?'3':datum.value==124?'4':datum.value==145?'5':datum.value==166?'6':'7'","grid":true,"labelPadding":5,"title":null}},
  "y":{"field":"o","type":"quantitative","scale":{"domain":[46.1875,60.594],"nice":false,"zero":false},"axis":null},
  "y2":{"field":"c"},
  "color":{"field":"t","type":"nominal","scale":{"domain":["r","g","b","o","ma20","ma50","ma200","bbu","bbl"],"range":["#c42a2a","#2b8f2b","#1414ff","#ffa000","#222222","#ffa62b","#ffd23f","#9c9c9c","#9c9c9c"]},"legend":null}
 }},
{"data":{"values":[{"label":"cafata.com"}]},"mark":{"type":"text","font":"DejaVu Sans","fontWeight":"bold","fontSize":16,"color":"#d2d2d2","align":"center","baseline":"alphabetic"},
 "encoding":{
  "x":{"datum":88.2,"type":"quantitative","scale":{"domain":[-11.155,208.83],"nice":false,"zero":false,"padding":0},
   "axis":{"orient":"bottom","values":[0,23,43,64,84,103,124,145,166,186],"labelExpr":"datum.value==0?'10':datum.value==23?'11':datum.value==43?'12':datum.value==64?'1':datum.value==84?'2':datum.value==103?'3':datum.value==124?'4':datum.value==145?'5':datum.value==166?'6':'7'","grid":true,"labelPadding":5,"title":null}},
  "y":{"datum":59.9,"type":"quantitative","scale":{"domain":[46.1875,60.594],"nice":false,"zero":false},"axis":null},
  "text":{"field":"label"}
 }},
{"data":{"values":[{"label":"INDA 2025.07.18 00:00:00 $54.50 -0.93% vol:8929.9K 1.4x"}]},"mark":{"type":"text","font":"DejaVu Sans","fontSize":13.8,"color":"#14148e","align":"right","baseline":"alphabetic"},
 "encoding":{
  "x":{"datum":223.87,"type":"quantitative","scale":{"domain":[-11.155,208.83],"nice":false,"zero":false,"padding":0},
   "axis":{"orient":"bottom","values":[0,23,43,64,84,103,124,145,166,186],"labelExpr":"datum.value==0?'10':datum.value==23?'11':datum.value==43?'12':datum.value==64?'1':datum.value==84?'2':datum.value==103?'3':datum.value==124?'4':datum.value==145?'5':datum.value==166?'6':'7'","grid":true,"labelPadding":5,"title":null}},
  "y":{"datum":59.916,"type":"quantitative","scale":{"domain":[46.1875,60.594],"nice":false,"zero":false},"axis":null},
  "text":{"field":"label"}
 }}
],
"resolve":{"scale":{"y":"independent"},"axis":{"y":"independent"}}
}
